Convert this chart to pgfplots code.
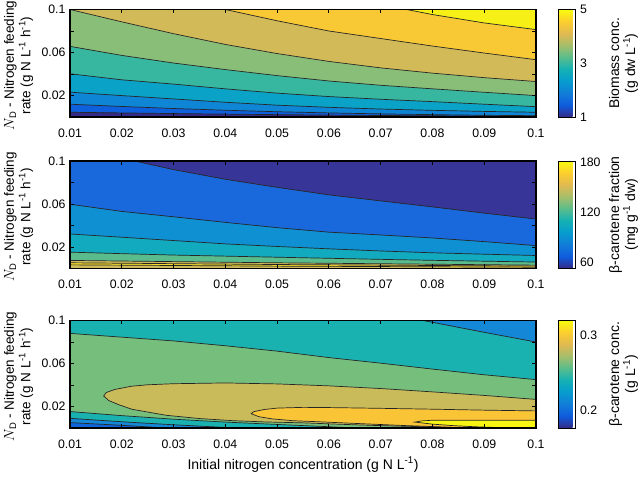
\documentclass[border=0pt]{standalone}
\usepackage{fontspec}
\setmainfont{Liberation Sans}
\usepackage{pgfplots}
\pgfplotsset{compat=1.18}
\pgfplotsset{colormap={parula}{rgb255=(53,42,135) rgb255=(15,92,221) rgb255=(18,125,216) rgb255=(7,156,207) rgb255=(21,177,180) rgb255=(89,189,140) rgb255=(165,190,107) rgb255=(225,185,82) rgb255=(252,206,46) rgb255=(249,251,14)}}
\newcommand{\ticksize}{\fontsize{12.3bp}{14bp}\selectfont}
\newcommand{\labsize}{\fontsize{14bp}{16bp}\selectfont}
% plot 1 colours
\definecolor{pA}{RGB}{53,42,135}
\definecolor{pB}{RGB}{15,96,220}
\definecolor{pC}{RGB}{15,133,214}
\definecolor{pD}{RGB}{11,162,199}
\definecolor{pE}{RGB}{55,183,160}
\definecolor{pF}{RGB}{136,190,120}
\definecolor{pG}{RGB}{210,186,88}
\definecolor{pH}{RGB}{249,201,53}
\definecolor{pI}{RGB}{247,240,22}
% plot 2 colours
\definecolor{qA}{RGB}{55,54,152}
\definecolor{qB}{RGB}{25,105,220}
\definecolor{qC}{RGB}{14,144,211}
\definecolor{qD}{RGB}{18,170,190}
\definecolor{qE}{RGB}{90,188,140}
\definecolor{qF}{RGB}{205,186,90}
\definecolor{qG}{RGB}{245,220,40}
% plot 3 colours
\definecolor{rA}{RGB}{20,135,214}
\definecolor{rB}{RGB}{25,178,176}
\definecolor{rC}{RGB}{118,190,124}
\definecolor{rD}{RGB}{202,187,90}
\definecolor{rE}{RGB}{250,196,55}
\definecolor{rF}{RGB}{249,245,18}
\definecolor{rG}{RGB}{15,100,220}
\pgfplotsset{
 panel/.style={
  scale only axis, width=466bp, height=107.5bp,
  xmin=0.01, xmax=0.1, ymin=0, ymax=0.1,
  xtick={0.01,0.02,0.03,0.04,0.05,0.06,0.07,0.08,0.09,0.1},
  xticklabels={0.01,0.02,0.03,0.04,0.05,0.06,0.07,0.08,0.09,0.1},
  ytick={0.02,0.04,0.06,0.08,0.1},
  yticklabels={0.02,,0.06,,0.1},
  tick align=inside, major tick length=4bp,
  tick style={black, line width=0.9bp},
  axis line style={black, line width=1.1bp},
  axis on top,
  tick label style={font=\ticksize},
  xticklabel style={yshift=-8bp},
  yticklabel style={xshift=-1bp},
  label style={font=\labsize},
  ylabel={$N_{\mathrm{D}}$ - Nitrogen feeding\\rate (g N L\textsuperscript{-1} h\textsuperscript{-1})},
  ylabel style={align=center, font=\fontsize{13.5bp}{16.5bp}\selectfont,
    at={(axis description cs:-0.110,0.48)}, anchor=center},
  colorbar, colormap name=parula,
  colorbar style={scale only axis, width=17bp, height=107.5bp,
    at={(parent axis.north east)}, anchor=north west, xshift=14bp,
    axis line style={black, line width=0.9bp},
    ytick style={draw=none},
    yticklabel style={font=\ticksize, xshift=1bp},
    ylabel style={align=center, font=\labsize, at={(axis description cs:3.82,0.5)}, anchor=center}},
 },
 cl/.style={draw=black!85, line width=0.7bp},
}
\begin{document}
\begin{tikzpicture}
\useasboundingbox (0,0) rectangle (638bp,478bp);
% ---------------- Panel 1: biomass
\begin{axis}[panel, at={(70bp,361bp)}, anchor=south west,
  point meta min=1, point meta max=5,
  colorbar style={ytick={1,3,5}, yticklabels={1,3,5}, ylabel={Biomass conc.\\(g dw L\textsuperscript{-1})}}]
\addplot[fill=pA, draw=none] coordinates {(0.01,0) (0.1,0) (0.1,0.1) (0.01,0.1)} -- cycle;
\addplot[fill=pB, cl] coordinates {(0.01,0.0044) (0.03,0.0032) (0.05,0.0022) (0.07,0.0014) (0.1,0.0006) (0.1,0.1) (0.01,0.1)} -- cycle;
\addplot[fill=pC, cl] coordinates {(0.01,0.0119) (0.02,0.0098) (0.03,0.0079) (0.04,0.0063) (0.05,0.0049) (0.06,0.0038) (0.07,0.0029) (0.08,0.0022) (0.09,0.0016) (0.1,0.0012) (0.1,0.1) (0.01,0.1)} -- cycle;
\addplot[fill=pD, cl] coordinates {(0.01,0.0231) (0.02,0.0199) (0.03,0.0168) (0.04,0.0137) (0.05,0.0110) (0.06,0.0090) (0.07,0.0074) (0.08,0.0062) (0.09,0.0052) (0.1,0.0044) (0.1,0.1) (0.01,0.1)} -- cycle;
\addplot[fill=pE, cl] coordinates {(0.01,0.0402) (0.02,0.0346) (0.03,0.0306) (0.04,0.0262) (0.05,0.0222) (0.06,0.0190) (0.07,0.0165) (0.08,0.0143) (0.09,0.0119) (0.1,0.0096) (0.1,0.1) (0.01,0.1)} -- cycle;
\addplot[fill=pF, cl] coordinates {(0.01,0.0657) (0.02,0.0573) (0.03,0.0502) (0.04,0.0441) (0.05,0.0385) (0.06,0.0335) (0.07,0.0295) (0.08,0.0262) (0.09,0.0230) (0.1,0.0199) (0.1,0.1) (0.01,0.1)} -- cycle;
\addplot[fill=pG, cl] coordinates {(0.01,0.1) (0.02,0.0885) (0.03,0.0775) (0.04,0.0675) (0.05,0.0590) (0.06,0.0517) (0.07,0.0457) (0.08,0.0408) (0.09,0.0366) (0.1,0.0330) (0.1,0.1)} -- cycle;
\addplot[fill=pH, cl] coordinates {(0.04,0.1) (0.05,0.0895) (0.06,0.0800) (0.07,0.0730) (0.08,0.0660) (0.09,0.0595) (0.1,0.0533) (0.1,0.1)} -- cycle;
\addplot[fill=pI, cl] coordinates {(0.075,0.1) (0.08,0.0953) (0.09,0.0875) (0.1,0.0813) (0.1,0.1)} -- cycle;
\end{axis}
% ---------------- Panel 2: beta-carotene fraction
\begin{axis}[panel, at={(70bp,209.5bp)}, anchor=south west,
  point meta min=53, point meta max=182,
  colorbar style={ytick={60,120,180}, yticklabels={60,120,180}, ylabel={β-carotene fraction\\(mg g\textsuperscript{-1} dw)}}]
\addplot[fill=qF, draw=none] coordinates {(0.01,0) (0.1,0) (0.1,0.1) (0.01,0.1)} -- cycle;
\addplot[fill=qG, cl] coordinates {(0.01,0.0034) (0.05,0.0022) (0.1,0.0012) (0.1,0.1) (0.01,0.1)} -- cycle;
\addplot[fill=qF, cl] coordinates {(0.01,0.0053) (0.05,0.0037) (0.1,0.0022) (0.1,0.1) (0.01,0.1)} -- cycle;
\addplot[fill=qE, cl] coordinates {(0.01,0.0075) (0.05,0.0053) (0.1,0.0031) (0.1,0.1) (0.01,0.1)} -- cycle;
\addplot[fill=qD, cl] coordinates {(0.01,0.0152) (0.02,0.0138) (0.03,0.0125) (0.04,0.0115) (0.05,0.0105) (0.06,0.0095) (0.07,0.0085) (0.08,0.0076) (0.09,0.0068) (0.1,0.0060) (0.1,0.1) (0.01,0.1)} -- cycle;
\addplot[fill=qC, cl] coordinates {(0.01,0.0321) (0.02,0.0291) (0.03,0.0260) (0.04,0.0229) (0.05,0.0205) (0.06,0.0183) (0.07,0.0163) (0.08,0.0146) (0.09,0.0133) (0.1,0.0121) (0.1,0.1) (0.01,0.1)} -- cycle;
\addplot[fill=qB, cl] coordinates {(0.01,0.0598) (0.02,0.0531) (0.03,0.0481) (0.04,0.0429) (0.05,0.0380) (0.06,0.0338) (0.07,0.0312) (0.08,0.0284) (0.09,0.0250) (0.1,0.0213) (0.1,0.1) (0.01,0.1)} -- cycle;
\addplot[fill=qA, cl] coordinates {(0.0225,0.1) (0.03,0.0920) (0.04,0.0830) (0.05,0.0755) (0.06,0.0685) (0.07,0.0629) (0.08,0.0573) (0.09,0.0515) (0.1,0.0460) (0.1,0.1)} -- cycle;
\end{axis}
% ---------------- Panel 3: beta-carotene concentration
\begin{axis}[panel, at={(70bp,50bp)}, anchor=south west,
  point meta min=0.176, point meta max=0.32,
  xlabel={Initial nitrogen concentration (g N L\textsuperscript{-1})},
  xlabel style={yshift=-2bp},
  colorbar style={ytick={0.2,0.3}, yticklabels={0.2,0.3}, ylabel={β-carotene conc.\\(g L\textsuperscript{-1})}}]
\addplot[fill=rB, draw=none] coordinates {(0.01,0) (0.1,0) (0.1,0.1) (0.01,0.1)} -- cycle;
\addplot[fill=rA, cl] coordinates {(0.0782,0.1) (0.09,0.0890) (0.1,0.0800) (0.1,0.1)} -- cycle;
\addplot[fill=rC, cl] coordinates {(0.01,0.0880) (0.02,0.0845) (0.03,0.0810) (0.04,0.0765) (0.05,0.0715) (0.06,0.0655) (0.07,0.0603) (0.08,0.0548) (0.09,0.0495) (0.1,0.0450) (0.1,0) (0.01,0)} -- cycle;
\addplot[fill=rD, cl] coordinates {(0.1,0.0266) (0.09,0.0303) (0.08,0.0336) (0.07,0.0367) (0.06,0.0392) (0.05,0.0410) (0.04,0.0419) (0.03,0.0412) (0.025,0.0402) (0.0218,0.0388) (0.0186,0.0358) (0.0170,0.0330) (0.0165,0.0298) (0.0175,0.0255) (0.0195,0.0215) (0.022,0.0174) (0.0286,0.0118) (0.035,0.0088) (0.0415,0.0068) (0.048,0.0056) (0.055,0.0048) (0.062,0.0035) (0.07,0.0022) (0.08,0.0010) (0.09,0) (0.1,0)} -- cycle;
\addplot[fill=rE, cl] coordinates {(0.1,0.0159) (0.09,0.0166) (0.08,0.0175) (0.07,0.0183) (0.06,0.0190) (0.055,0.0192) (0.05,0.0185) (0.0475,0.0172) (0.0455,0.0152) (0.045,0.0133) (0.0465,0.0105) (0.049,0.0085) (0.053,0.0068) (0.058,0.0058) (0.0673,0.0038) (0.075,0.0022) (0.082,0.0010) (0.086,0) (0.1,0)} -- cycle;
\addplot[fill=rF, cl] coordinates {(0.1,0.0073) (0.09,0.0073) (0.08,0.0072) (0.078,0.0066) (0.0766,0.0055) (0.080,0.0036) (0.084,0.0022) (0.088,0.0012) (0.092,0.0005) (0.095,0) (0.1,0)} -- cycle;
\addplot[fill=rB, cl] coordinates {(0.01,0.0153) (0.02,0.0115) (0.03,0.0082) (0.04,0.0055) (0.05,0.0033) (0.06,0.0012) (0.065,0) (0.01,0)} -- cycle;
\addplot[fill=rA, cl] coordinates {(0.01,0.0090) (0.02,0.0058) (0.03,0.0030) (0.038,0.0010) (0.042,0) (0.01,0)} -- cycle;
\addplot[fill=rG, cl] coordinates {(0.01,0.0050) (0.02,0.0025) (0.027,0.0005) (0.03,0) (0.01,0)} -- cycle;
\end{axis}
\end{tikzpicture}
\end{document}
